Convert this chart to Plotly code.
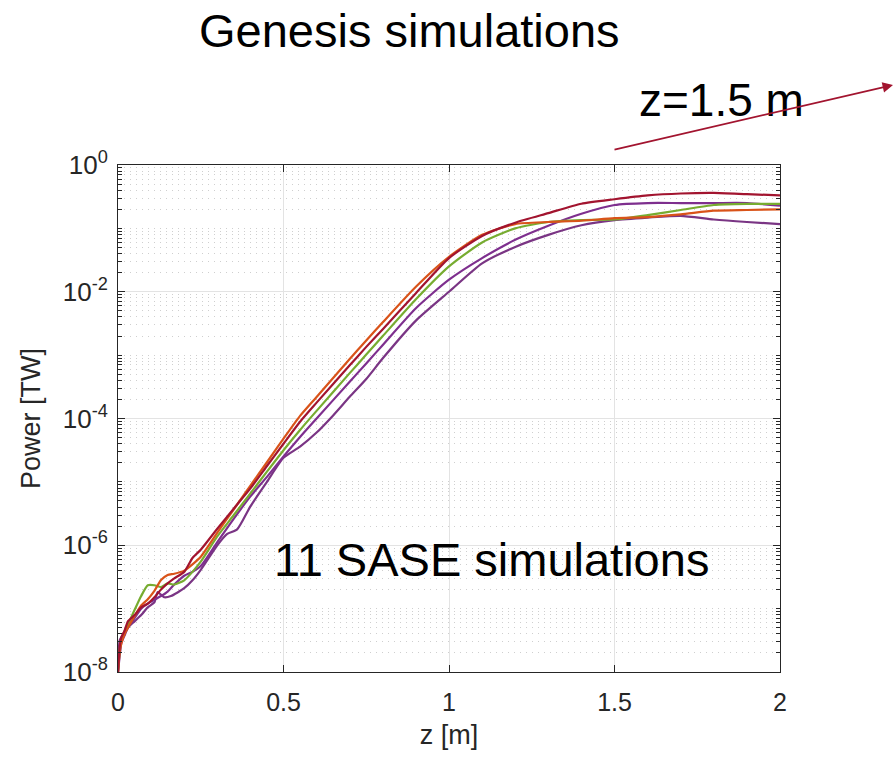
import plotly.graph_objects as go

# ---------------- data ----------------
z_common = [0, 0.005, 0.01, 0.02, 0.03, 0.05, 0.07, 0.09, 0.11, 0.13, 0.15, 0.17, 0.2, 0.225, 0.25,
            0.3, 0.35, 0.4, 0.45, 0.5, 0.55, 0.6, 0.7, 0.75, 0.8, 0.9, 1.0, 1.1, 1.2, 1.3, 1.4,
            1.5, 1.6, 1.7, 1.8, 1.9, 2.0]

power_orange = [1e-8, 2.0e-8, 2.82e-8, 3.98e-8, 5.0e-8, 7.6e-8, 1.12e-7, 1.41e-7, 1.91e-7, 2.82e-7,
                3.39e-7, 3.55e-7, 3.98e-7, 5.0e-7, 6.6e-7, 1.58e-6, 3.7e-6, 8.7e-6, 2.04e-5, 4.8e-5,
                1.10e-4, 2.19e-4, 8.7e-4, 1.70e-3, 3.3e-3, 1.20e-2, 3.55e-2, 7.9e-2, 0.117, 0.126,
                0.132, 0.145, 0.151, 0.166, 0.19, 0.195, 0.20]

power_red = [1e-8, 2.5e-8, 3.5e-8, 4.5e-8, 6.3e-8, 7.9e-8, 1.05e-7, 1.2e-7, 1.51e-7, 2.0e-7,
             2.5e-7, 3.0e-7, 3.8e-7, 6.3e-7, 8.5e-7, 1.82e-6, 3.8e-6, 7.9e-6, 1.78e-5, 4.0e-5,
             8.9e-5, 1.78e-4, 6.9e-4, 1.35e-3, 2.57e-3, 9.5e-3, 3.4e-2, 7.6e-2, 0.123, 0.174,
             0.245, 0.288, 0.331, 0.355, 0.363, 0.347, 0.331]

power_green = [1e-8, 2.24e-8, 3.16e-8, 4.5e-8, 5.6e-8, 9.5e-8, 1.58e-7, 2.34e-7, 2.34e-7, 2.19e-7,
               2.5e-7, 2.4e-7, 2.8e-7, 3.8e-7, 5.5e-7, 1.38e-6, 3.0e-6, 6.6e-6, 1.45e-5, 3.16e-5,
               6.6e-5, 1.32e-4, 5.2e-4, 1.02e-3, 2.0e-3, 7.6e-3, 2.51e-2, 6.0e-2, 0.100, 0.126,
               0.135, 0.138, 0.162, 0.195, 0.234, 0.243, 0.243]

power_purple = [1e-8, 1.78e-8, 2.82e-8, 3.8e-8, 5.0e-8, 7.1e-8, 1.0e-7, 1.2e-7, 1.38e-7, 1.58e-7,
                1.86e-7, 2.4e-7, 3.3e-7, 3.8e-7, 4.7e-7, 1.12e-6, 2.63e-6, 5.9e-6, 1.2e-5, 2.51e-5,
                5.1e-5, 1.0e-4, 3.8e-4, 7.4e-4, 1.45e-3, 5.5e-3, 1.55e-2, 3.4e-2, 6.6e-2, 0.11,
                0.17, 0.234, 0.251, 0.251, 0.251, 0.251, 0.229]

z_low = [0, 0.005, 0.01, 0.02, 0.03, 0.05, 0.07, 0.09, 0.11, 0.12, 0.14, 0.16, 0.2, 0.225, 0.25,
         0.3, 0.33, 0.36, 0.4, 0.45, 0.5, 0.55, 0.6, 0.65, 0.7, 0.75, 0.8, 0.9, 1.0, 1.1, 1.2,
         1.3, 1.4, 1.5, 1.6, 1.7, 1.8, 1.9, 2.0]
power_purple_low = [1e-8, 3.16e-8, 3.55e-8, 4.2e-8, 5.0e-8, 6.3e-8, 7.9e-8, 1.05e-7, 1.26e-7, 1.82e-7,
                    1.51e-7, 1.58e-7, 2.1e-7, 2.8e-7, 4.1e-7, 1.0e-6, 1.51e-6, 1.78e-6, 4.1e-6, 1.0e-5,
                    2.4e-5, 3.6e-5, 6.0e-5, 1.12e-4, 2.2e-4, 4.2e-4, 8.9e-4, 3.5e-3, 1.0e-2, 2.8e-2,
                    5.1e-2, 7.9e-2, 0.112, 0.135, 0.148, 0.158, 0.138, 0.126, 0.117]

x_ticks = [0, 0.5, 1, 1.5, 2]
x_tick_labels = ["0", "0.5", "1", "1.5", "2"]
y_ticks = [1e-8, 1e-6, 1e-4, 1e-2, 1]
y_tick_labels = ["10<sup>-8</sup>", "10<sup>-6</sup>", "10<sup>-4</sup>", "10<sup>-2</sup>", "10<sup>0</sup>"]

# ---------------- figure ----------------
series = [
    (z_low, power_purple_low, "#7A3584"),
    (z_common, power_purple, "#7E2F8E"),
    (z_common, power_green, "#77AC30"),
    (z_common, power_orange, "#D95319"),
    (z_common, power_red, "#A2142F"),
]

fig = go.Figure()
for zz, pp, col in series:
    fig.add_trace(go.Scatter(x=zz, y=pp, mode="lines",
                             line=dict(color=col, width=2.2, shape="spline", smoothing=0.6),
                             showlegend=False, hoverinfo="skip"))

minor_y = []
for k in range(-8, 0):
    for m in range(1, 10):
        v = m * 10.0 ** k
        if m == 1 and k % 2 == 0:
            continue
        minor_y.append(v)

FONT = "Liberation Sans, Arial, Helvetica, sans-serif"
AXC = "#262626"

fig.update_layout(
    width=896, height=758,
    margin=dict(l=118, r=116, t=165, b=86),
    paper_bgcolor="white", plot_bgcolor="white",
    xaxis=dict(range=[0, 2], tickvals=x_ticks, ticktext=x_tick_labels,
               ticks="inside", ticklen=7, tickcolor=AXC, showline=True, linecolor=AXC,
               linewidth=1, mirror="allticks", showgrid=True, gridcolor="#e3e3e3",
               gridwidth=1, zeroline=False, ticklabelstandoff=8,
               tickfont=dict(family=FONT, size=25, color=AXC),
               title=dict(text="z [m]", font=dict(family=FONT, size=27, color=AXC), standoff=10)),
    yaxis=dict(type="log", range=[-8, 0], tickvals=y_ticks, ticktext=y_tick_labels,
               ticks="inside", ticklen=7, tickcolor=AXC, showline=True, linecolor=AXC,
               linewidth=1, mirror="allticks", showgrid=True, gridcolor="#e3e3e3",
               gridwidth=1, zeroline=False, ticklabelstandoff=4,
               tickfont=dict(family=FONT, size=26, color=AXC),
               minor=dict(tickvals=minor_y, ticks="inside", ticklen=4, tickcolor=AXC,
                          showgrid=True, gridcolor="#cfcfcf", griddash="1px,5px", gridwidth=1),
               title=dict(text="Power [TW]", font=dict(family=FONT, size=27, color=AXC), standoff=14)),
)

fig.add_annotation(text="Genesis simulations", xref="paper", yref="paper", x=0.441, y=1.266,
                   showarrow=False, font=dict(family=FONT, size=47, color="black"),
                   xanchor="center", yanchor="middle")
fig.add_annotation(text="z=1.5 m", xref="paper", yref="paper", x=0.912, y=1.128,
                   showarrow=False, font=dict(family=FONT, size=46, color="black"),
                   xanchor="center", yanchor="middle")
fig.add_annotation(text="", xref="paper", yref="paper", x=1.1707, y=1.1578,
                   ax=-280, ay=65, axref="pixel", ayref="pixel",
                   showarrow=True, arrowhead=2, arrowsize=1.3, arrowwidth=1.6,
                   arrowcolor="#A2142F")
fig.add_annotation(text="11 SASE simulations", xref="x", yref="y", x=1.127, y=-6.23,
                   showarrow=False, font=dict(family=FONT, size=47, color="black"),
                   xanchor="center", yanchor="middle")

fig.write_html("out.html")
